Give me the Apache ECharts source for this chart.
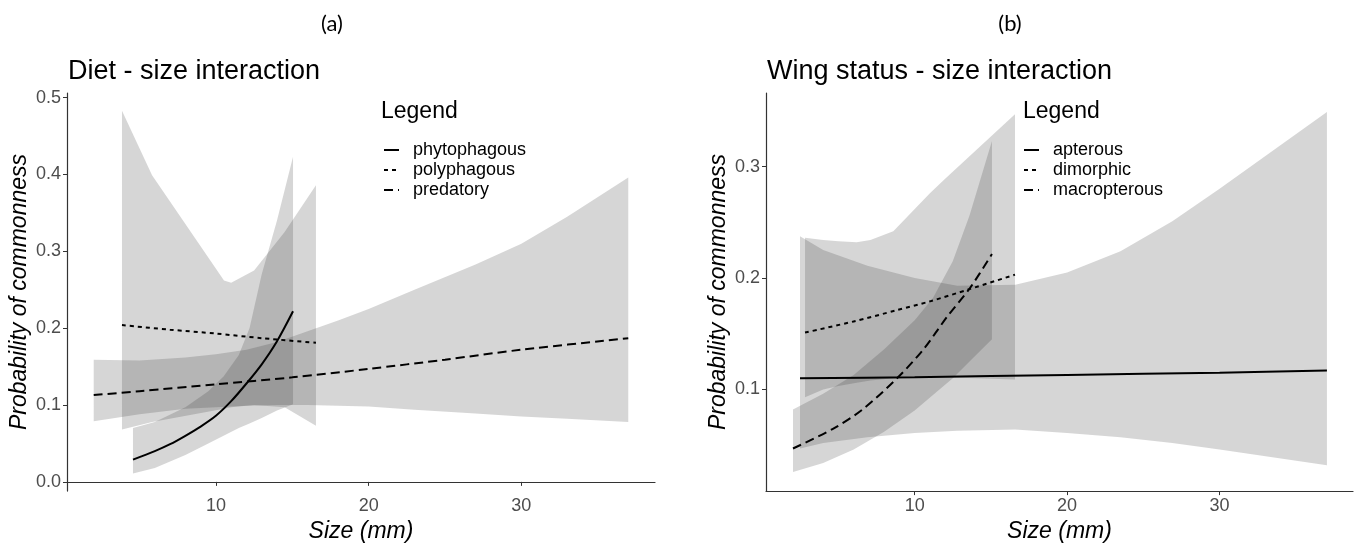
<!DOCTYPE html>
<html>
<head>
<meta charset="utf-8">
<script src="https://cdn.jsdelivr.net/npm/echarts@6/dist/echarts.min.js"></script>
<style>html,body{margin:0;padding:0;background:#fff;}#chart{width:1363px;height:548px;}</style>
</head>
<body>
<div id="chart"></div>
<script>
// ---------- Panel (a): Diet - size interaction ----------
const xTicks = [10, 20, 30];
const yTicksA = [0, 0.1, 0.2, 0.3, 0.4, 0.5];
const yTicksB = [0.1, 0.2, 0.3];

const phytoLineX = [4.57, 6, 7, 8, 9, 10, 11, 12, 13, 14, 15.05];
const phytoLineY = [0.029, 0.040, 0.049, 0.060, 0.072, 0.086, 0.105, 0.128, 0.153, 0.183, 0.222];
const phytoBandX = [4.57, 6, 8, 9.5, 10.5, 11.5, 12.2, 13, 14, 15.05];
const phytoBandLo = [0.011, 0.018, 0.035, 0.050, 0.060, 0.070, 0.076, 0.083, 0.093, 0.101];
const phytoBandHi = [0.070, 0.078, 0.097, 0.118, 0.137, 0.165, 0.200, 0.270, 0.340, 0.423];

const polyLineX = [3.85, 7, 10, 13, 16.55];
const polyLineY = [0.204, 0.198, 0.193, 0.187, 0.181];
const polyBandX = [3.85, 5.82, 10.53, 11.0, 12.5, 14.5, 16.55];
const polyBandLo = [0.068, 0.078, 0.095, 0.097, 0.100, 0.097, 0.073];
const polyBandHi = [0.483, 0.399, 0.262, 0.259, 0.275, 0.325, 0.386];

const predLineX = [2, 5, 10, 15, 20, 25, 30, 37];
const predLineY = [0.113, 0.118, 0.127, 0.136, 0.147, 0.159, 0.172, 0.187];
const predBandX = [2, 5, 8, 10, 12, 14, 16, 18, 20, 23, 27, 30, 33, 37];
const predBandLo = [0.079, 0.088, 0.095, 0.097, 0.099, 0.100, 0.100, 0.099, 0.098, 0.094, 0.089, 0.085, 0.082, 0.078];
const predBandHi = [0.159, 0.158, 0.162, 0.166, 0.172, 0.182, 0.196, 0.210, 0.225, 0.250, 0.283, 0.310, 0.345, 0.396];

// ---------- Panel (b): Wing status - size interaction ----------
const apterLineX = [2.48, 10, 20, 30, 37.04];
const apterLineY = [0.110, 0.111, 0.113, 0.115, 0.117];
const apterBandX = [2.48, 4, 6.9, 10, 12.8, 16.6, 20, 23.5, 26.9, 30, 37.04];
const apterBandLo = [0.047, 0.052, 0.057, 0.061, 0.063, 0.064, 0.061, 0.057, 0.052, 0.046, 0.032];
const apterBandHi = [0.2375, 0.225, 0.211, 0.200, 0.193, 0.194, 0.205, 0.224, 0.251, 0.280, 0.349];

const dimorLineX = [2.81, 6, 8.8, 11, 13.6, 16.58];
const dimorLineY = [0.151, 0.161, 0.171, 0.179, 0.190, 0.203];
const dimorBandX = [2.81, 4, 5, 6.2, 7.1, 8.6, 11, 12, 16.58];
const dimorBandLo = [0.093, 0.100, 0.103, 0.106, 0.108, 0.110, 0.111, 0.111, 0.109];
const dimorBandHi = [0.236, 0.234, 0.233, 0.232, 0.234, 0.242, 0.276, 0.289, 0.347];

const macroLineX = [2.02, 4.64, 6.61, 8.84, 10.55, 12.12, 13.63, 15.07];
const macroLineY = [0.047, 0.0646, 0.0823, 0.110, 0.1355, 0.165, 0.191, 0.2215];
const macroBandX = [2.02, 4, 6, 8, 10, 11.2, 12.5, 13.6, 15.07];
const macroBandLo = [0.026, 0.034, 0.046, 0.062, 0.081, 0.095, 0.110, 0.125, 0.145];
const macroBandHi = [0.082, 0.096, 0.113, 0.136, 0.162, 0.182, 0.215, 0.256, 0.323];

const FONT = 'Liberation Sans';
const BAND_FILL = 'rgba(51,51,51,0.2)';

function zip(xs, ys) { return xs.map((x, i) => [x, ys[i]]); }

function band(xs, lo, hi, idx) {
  return {
    type: 'custom', coordinateSystem: 'cartesian2d',
    xAxisIndex: idx, yAxisIndex: idx, silent: true, z: 1,
    data: xs.map((x, i) => [x, lo[i], hi[i]]),
    encode: { x: 0, y: [1, 2] },
    renderItem: function (params, api) {
      if (params.dataIndex !== 0) return null;
      const pts = [];
      for (let i = 0; i < xs.length; i++) pts.push(api.coord([xs[i], hi[i]]));
      for (let i = xs.length - 1; i >= 0; i--) pts.push(api.coord([xs[i], lo[i]]));
      return { type: 'polygon', shape: { points: pts }, style: { fill: BAND_FILL } };
    }
  };
}

function line(name, xs, ys, dash, idx) {
  return {
    type: 'line', name: name, xAxisIndex: idx, yAxisIndex: idx,
    data: zip(xs, ys), smooth: 0.3, symbol: 'none', showSymbol: false, z: 3,
    lineStyle: { color: '#000', width: 2, type: dash },
    itemStyle: { color: '#000' }
  };
}

function xAxis(idx) {
  return {
    type: 'value', gridIndex: idx, min: 0.25, max: 38.75,
    name: 'Size (mm)', nameLocation: 'middle', nameGap: 25,
    nameTextStyle: { fontFamily: FONT, fontSize: 23, fontStyle: 'italic', color: '#000' },
    splitLine: { show: false },
    axisLine: { show: true, lineStyle: { color: '#333', width: 1.2 } },
    axisTick: { show: true, length: 4, customValues: xTicks, lineStyle: { color: '#333' } },
    axisLabel: { customValues: xTicks, margin: 6, fontFamily: FONT, fontSize: 18, color: '#4d4d4d' }
  };
}

function yAxis(idx, min, max, ticks) {
  return {
    type: 'value', gridIndex: idx, min: min, max: max,
    name: 'Probability of commonness', nameLocation: 'middle', nameGap: 36,
    nameTextStyle: { fontFamily: FONT, fontSize: 23, fontStyle: 'italic', color: '#000' },
    splitLine: { show: false },
    axisLine: { show: true, lineStyle: { color: '#333', width: 1.2 } },
    axisTick: { show: true, length: 4, customValues: ticks, lineStyle: { color: '#333' } },
    axisLabel: { customValues: ticks, margin: 6, fontFamily: FONT, fontSize: 18, color: '#4d4d4d',
      formatter: v => v.toFixed(1) }
  };
}

function legend(names, left) {
  return {
    data: names, left: left, top: 135, orient: 'vertical', selectedMode: false,
    itemWidth: 15, itemHeight: 14, itemGap: 0,
    itemStyle: { opacity: 0 },
    lineStyle: { color: '#000', width: 2 },
    textStyle: { fontFamily: FONT, fontSize: 18, color: '#000', lineHeight: 20, padding: [0, 0, 0, 9] }
  };
}

const chart = echarts.init(document.getElementById('chart'), null, { renderer: 'canvas' });
chart.setOption({
  animation: false,
  backgroundColor: '#fff',
  title: [
    { text: 'Diet - size interaction', left: 68, top: 58, padding: 0,
      textStyle: { fontFamily: FONT, fontSize: 27, fontWeight: 'normal', color: '#000' } },
    { text: 'Wing status - size interaction', left: 767, top: 58, padding: 0,
      textStyle: { fontFamily: FONT, fontSize: 27, fontWeight: 'normal', color: '#000' } }
  ],
  graphic: [
    { type: 'text', x: 332, y: 24, style: { text: '(a)', font: '22px Lato, sans-serif', fill: '#000', textAlign: 'center', textVerticalAlign: 'middle' } },
    { type: 'text', x: 1010, y: 24, style: { text: '(b)', font: '22px Lato, sans-serif', fill: '#000', textAlign: 'center', textVerticalAlign: 'middle' } },
    { type: 'text', x: 381, y: 112, style: { text: 'Legend', font: '23px "Liberation Sans", Arial, sans-serif', fill: '#000', textVerticalAlign: 'middle' } },
    { type: 'text', x: 1023, y: 112, style: { text: 'Legend', font: '23px "Liberation Sans", Arial, sans-serif', fill: '#000', textVerticalAlign: 'middle' } }
  ],
  legend: [
    legend(['phytophagous', 'polyphagous', 'predatory'], 378),
    legend(['apterous', 'dimorphic', 'macropterous'], 1018)
  ],
  grid: [
    { left: 67, top: 93, width: 588, height: 403 },
    { left: 766, top: 93, width: 587, height: 403 }
  ],
  xAxis: [xAxis(0), xAxis(1)],
  yAxis: [yAxis(0, -0.012, 0.506, yTicksA), yAxis(1, 0.00875, 0.366, yTicksB)],
  series: [
    band(predBandX, predBandLo, predBandHi, 0),
    band(polyBandX, polyBandLo, polyBandHi, 0),
    band(phytoBandX, phytoBandLo, phytoBandHi, 0),
    line('phytophagous', phytoLineX, phytoLineY, 'solid', 0),
    line('polyphagous', polyLineX, polyLineY, [4, 4], 0),
    line('predatory', predLineX, predLineY, [9, 5], 0),
    band(apterBandX, apterBandLo, apterBandHi, 1),
    band(dimorBandX, dimorBandLo, dimorBandHi, 1),
    band(macroBandX, macroBandLo, macroBandHi, 1),
    line('apterous', apterLineX, apterLineY, 'solid', 1),
    line('dimorphic', dimorLineX, dimorLineY, [4, 4], 1),
    line('macropterous', macroLineX, macroLineY, [9, 5], 1)
  ]
});
</script>
</body>
</html>
